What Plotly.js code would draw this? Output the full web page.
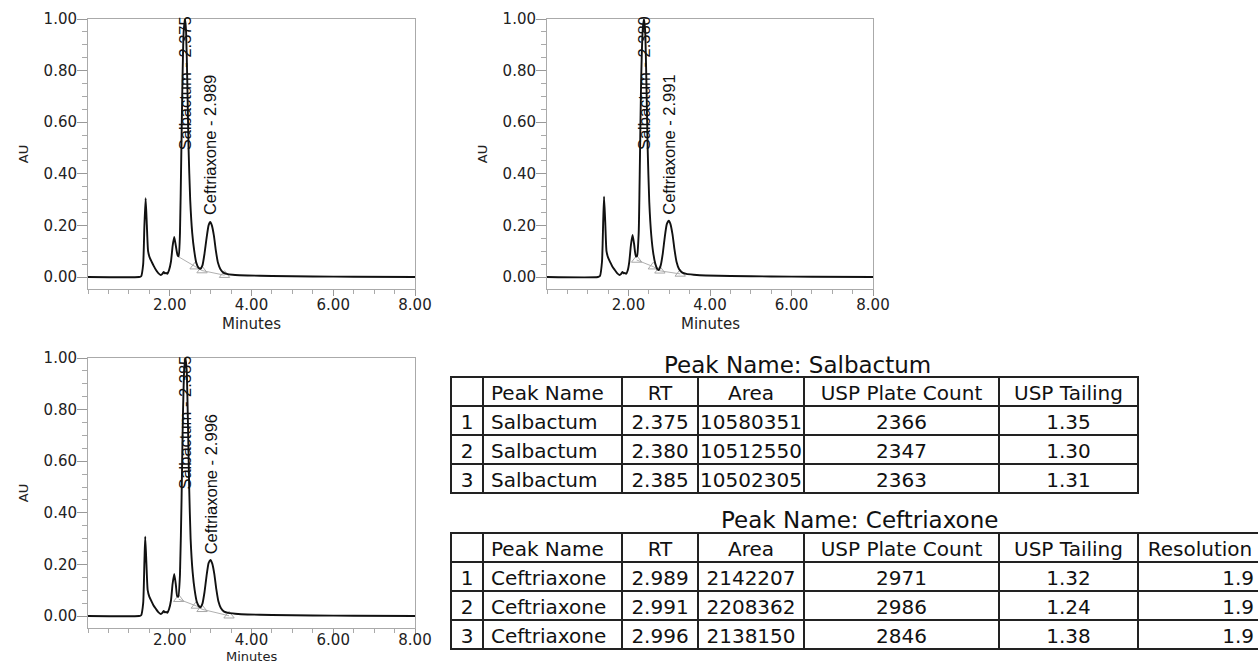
<!DOCTYPE html>
<html><head><meta charset="utf-8">
<script src="https://cdn.plot.ly/plotly-3.0.1.min.js"></script>
<style>html,body{margin:0;padding:0;overflow:hidden;background:#fff}#chart{width:1266px;height:665px}</style>
</head><body><div id="chart"></div>
<script>
// ---------- chromatogram data (minutes, AU) ----------
const run1Time = [0, 1.25, 1.30, 1.35, 1.38, 1.41, 1.44, 1.47, 1.51, 1.56, 1.61, 1.66, 1.72, 1.78, 1.82, 1.85, 1.88, 1.91, 1.94, 1.98, 2.03, 2.07, 2.11, 2.15, 2.19, 2.22, 2.25, 2.28, 2.31, 2.34, 2.375, 2.40, 2.43, 2.46, 2.50, 2.55, 2.60, 2.65, 2.70, 2.75, 2.80, 2.85, 2.90, 2.95, 2.99, 3.03, 3.08, 3.13, 3.18, 3.24, 3.32, 3.42, 3.60, 3.90, 4.50, 5.50, 6.50, 8.00];
const run1AU   = [0, 0, 0.003, 0.05, 0.20, 0.305, 0.20, 0.10, 0.075, 0.058, 0.042, 0.028, 0.015, 0.008, 0.012, 0.020, 0.014, 0.016, 0.012, 0.025, 0.060, 0.120, 0.155, 0.120, 0.085, 0.080, 0.170, 0.450, 0.750, 0.950, 1.000, 0.950, 0.750, 0.500, 0.300, 0.170, 0.100, 0.055, 0.036, 0.032, 0.045, 0.090, 0.150, 0.200, 0.213, 0.200, 0.160, 0.100, 0.055, 0.030, 0.016, 0.011, 0.008, 0.006, 0.004, 0.002, 0.001, 0];
const run2Time = [0, 1.25, 1.30, 1.35, 1.38, 1.40, 1.43, 1.46, 1.50, 1.55, 1.60, 1.66, 1.72, 1.78, 1.82, 1.85, 1.88, 1.91, 1.94, 1.98, 2.02, 2.06, 2.10, 2.14, 2.18, 2.21, 2.25, 2.28, 2.31, 2.35, 2.38, 2.41, 2.44, 2.47, 2.51, 2.56, 2.61, 2.66, 2.70, 2.74, 2.79, 2.84, 2.89, 2.94, 2.99, 3.03, 3.08, 3.13, 3.18, 3.24, 3.32, 3.42, 3.60, 3.90, 4.50, 5.50, 6.50, 8.00];
const run2AU   = [0, 0, 0.004, 0.06, 0.22, 0.311, 0.21, 0.10, 0.075, 0.058, 0.042, 0.028, 0.015, 0.008, 0.012, 0.020, 0.014, 0.016, 0.012, 0.025, 0.060, 0.125, 0.163, 0.125, 0.080, 0.082, 0.170, 0.450, 0.760, 0.960, 1.000, 0.950, 0.750, 0.500, 0.290, 0.160, 0.090, 0.050, 0.032, 0.027, 0.045, 0.090, 0.155, 0.205, 0.218, 0.205, 0.165, 0.105, 0.058, 0.031, 0.017, 0.012, 0.009, 0.006, 0.004, 0.002, 0.001, 0];
const run3Time = [0, 1.25, 1.30, 1.35, 1.38, 1.40, 1.43, 1.46, 1.50, 1.55, 1.60, 1.66, 1.72, 1.78, 1.82, 1.85, 1.88, 1.91, 1.94, 1.98, 2.03, 2.07, 2.11, 2.15, 2.18, 2.21, 2.25, 2.29, 2.32, 2.355, 2.385, 2.415, 2.445, 2.475, 2.51, 2.56, 2.61, 2.66, 2.71, 2.75, 2.80, 2.85, 2.90, 2.95, 2.996, 3.04, 3.09, 3.14, 3.19, 3.25, 3.33, 3.43, 3.60, 3.90, 4.50, 5.50, 6.50, 8.00];
const run3AU   = [0, 0, 0.003, 0.05, 0.21, 0.307, 0.20, 0.10, 0.075, 0.058, 0.042, 0.028, 0.015, 0.008, 0.012, 0.020, 0.014, 0.016, 0.012, 0.025, 0.060, 0.125, 0.163, 0.120, 0.078, 0.075, 0.160, 0.460, 0.760, 0.960, 1.000, 0.950, 0.750, 0.500, 0.300, 0.170, 0.100, 0.056, 0.038, 0.034, 0.048, 0.092, 0.155, 0.205, 0.217, 0.203, 0.163, 0.103, 0.057, 0.031, 0.017, 0.012, 0.009, 0.006, 0.004, 0.002, 0.001, 0];

// integration baselines (drop points)
const base1Time = [2.22, 2.62, 2.79, 3.34];
const base1AU   = [0.078, 0.040, 0.025, 0.007];
const base2Time = [2.20, 2.61, 2.77, 3.27];
const base2AU   = [0.066, 0.040, 0.024, 0.012];
const base3Time = [2.22, 2.65, 2.79, 3.45];
const base3AU   = [0.065, 0.039, 0.026, 0.001];

// peak names and retention times per run
const peakNames = ['Salbactum', 'Ceftriaxone'];
const run1RT = ['2.375', '2.989'];
const run2RT = ['2.380', '2.991'];
const run3RT = ['2.385', '2.996'];

// axis ticks and titles
const xTickVals = [2, 4, 6, 8];
const xTickText = ['2.00', '4.00', '6.00', '8.00'];
const yTickVals = [0, 0.2, 0.4, 0.6, 0.8, 1.0];
const yTickText = ['0.00', '0.20', '0.40', '0.60', '0.80', '1.00'];
const xTitle = 'Minutes';
const yTitle = 'AU';

// ---------- table data ----------
const salHeader   = ['', 'Peak Name', 'RT', 'Area', 'USP Plate Count', 'USP Tailing'];
const salIndex    = [1, 2, 3];
const salNames    = ['Salbactum', 'Salbactum', 'Salbactum'];
const salRT       = ['2.375', '2.380', '2.385'];
const salArea     = [10580351, 10512550, 10502305];
const salPlates   = [2366, 2347, 2363];
const salTailing  = ['1.35', '1.30', '1.31'];

const cefHeader   = ['', 'Peak Name', 'RT', 'Area', 'USP Plate Count', 'USP Tailing', 'Resolution'];
const cefIndex    = [1, 2, 3];
const cefNames    = ['Ceftriaxone', 'Ceftriaxone', 'Ceftriaxone'];
const cefRT       = ['2.989', '2.991', '2.996'];
const cefArea     = [2142207, 2208362, 2138150];
const cefPlates   = [2971, 2986, 2846];
const cefTailing  = ['1.32', '1.24', '1.38'];
const cefResol    = ['1.9', '1.9', '1.9'];

const tableTitles = ['Peak Name: Salbactum', 'Peak Name: Ceftriaxone'];

// ---------- layout helpers ----------
const W = 1266, H = 665;
const fx = p => p / W;
const fy = p => 1 - p / H;

const panels = [
  {x0: 88, x1: 415, y0: 19, y1: 289, titleY: 324, titleSize: 15, titleAnchor: 'middle', standoff: -4},
  {x0: 547, x1: 873, y0: 19, y1: 289, titleY: 324, titleSize: 15, titleAnchor: 'middle', standoff: -4},
  {x0: 88, x1: 415, y0: 358, y1: 628, titleY: 665, titleSize: 13, titleAnchor: 'bottom', standoff: -8}
];
const runs = [
  {t: run1Time, a: run1AU, bt: base1Time, ba: base1AU, mk: [false, true, true, true], rt: run1RT},
  {t: run2Time, a: run2AU, bt: base2Time, ba: base2AU, mk: [true, true, true, true], rt: run2RT},
  {t: run3Time, a: run3AU, bt: base3Time, ba: base3AU, mk: [true, true, true, true], rt: run3RT}
];

const tickFont = {family: 'DejaVu Sans, Liberation Sans, Arial', size: 15, color: '#222'};
const labelFont = {family: 'Liberation Sans, Arial', size: 16.5, color: '#111'};
const tableFont = {family: 'DejaVu Sans, Liberation Sans, Arial', size: 20, color: '#111'};
const titleFont = {family: 'DejaVu Sans, Liberation Sans, Arial', size: 23, color: '#111'};

const data = [];
const layout = {
  width: W, height: H,
  margin: {l: 0, r: 0, t: 0, b: 0},
  paper_bgcolor: '#fff', plot_bgcolor: '#fff',
  showlegend: false,
  annotations: [],
  font: {family: 'DejaVu Sans, Liberation Sans, Arial', color: '#222'}
};

panels.forEach((p, i) => {
  const sfx = i === 0 ? '' : String(i + 1);
  const xa = 'x' + sfx, ya = 'y' + sfx;
  const r = runs[i];
  layout['xaxis' + sfx] = {
    domain: [fx(p.x0), fx(p.x1)], range: [0, 8], anchor: ya,
    tickmode: 'array', tickvals: xTickVals, ticktext: xTickText,
    ticks: 'outside', ticklen: 6, tickwidth: 1, tickcolor: '#999', ticklabelstandoff: p.standoff,
    minor: {ticks: 'outside', ticklen: 4, tickwidth: 1, tickcolor: '#aaa', dtick: 0.5, tick0: 0},
    showline: true, linecolor: '#aaa', linewidth: 1, mirror: true,
    showgrid: false, zeroline: false, tickfont: tickFont, fixedrange: true
  };
  layout['yaxis' + sfx] = {
    domain: [fy(p.y1), fy(p.y0)], range: [-0.0465, 1.0], anchor: xa,
    tickmode: 'array', tickvals: yTickVals, ticktext: yTickText,
    ticks: 'outside', ticklen: 10, tickwidth: 1, tickcolor: '#999', ticklabelstandoff: -3,
    minor: {ticks: 'outside', ticklen: 5, tickwidth: 1, tickcolor: '#aaa', dtick: 0.05, tick0: 0},
    showline: true, linecolor: '#aaa', linewidth: 1, mirror: true,
    showgrid: false, zeroline: false, tickfont: tickFont, fixedrange: true,
    title: {text: yTitle, font: {family: tickFont.family, size: 13, color: '#222'}, standoff: 12}
  };
  // x-axis title as a paper annotation so it sits exactly under each panel
  layout.annotations.push({
    xref: 'paper', yref: 'paper', x: fx((p.x0 + p.x1) / 2), y: fy(p.titleY),
    text: xTitle, showarrow: false, xanchor: 'center', yanchor: p.titleAnchor, borderpad: 0,
    font: {family: tickFont.family, size: p.titleSize, color: '#222'}
  });
  data.push({
    type: 'scatter', mode: 'lines', x: r.bt, y: r.ba, xaxis: xa, yaxis: ya,
    line: {color: '#b0b0b0', width: 1}, hoverinfo: 'skip'
  });
  data.push({
    type: 'scatter', mode: 'markers',
    x: r.bt.filter((_, k) => r.mk[k]), y: r.ba.filter((_, k) => r.mk[k]),
    xaxis: xa, yaxis: ya,
    marker: {symbol: 'triangle-up-open', size: 9, color: '#a8a8a8', line: {width: 1, color: '#a8a8a8'}},
    hoverinfo: 'skip'
  });
  data.push({
    type: 'scatter', mode: 'lines', x: r.t, y: r.a, xaxis: xa, yaxis: ya,
    line: {color: '#111', width: 1.9, shape: 'spline', smoothing: 0.5}, name: 'Run ' + (i + 1)
  });
  const labelBase = [0.484, 0.233];
  peakNames.forEach((nm, k) => {
    layout.annotations.push({
      xref: xa, yref: ya, x: parseFloat(r.rt[k]), y: labelBase[k],
      text: nm + ' - ' + r.rt[k], textangle: -90, showarrow: false,
      xanchor: 'center', yanchor: 'bottom', font: labelFont
    });
  });
});

// tables
const border = {color: '#222', width: 1.5};
const fill = {color: '#fff'};
data.push({
  type: 'table',
  domain: {x: [fx(451), fx(1138)], y: [fy(500), fy(377)]},
  columnwidth: [32, 139, 76, 106, 195, 139],
  header: {values: salHeader, align: ['center', 'left', 'center', 'center', 'center', 'center'],
           height: 29, line: border, fill: fill, font: tableFont},
  cells: {values: [salIndex, salNames, salRT, salArea, salPlates, salTailing],
          align: ['center', 'left', 'center', 'center', 'center', 'center'],
          height: 29, line: border, fill: fill, font: tableFont}
});
data.push({
  type: 'table',
  domain: {x: [fx(451), fx(1262)], y: [fy(656), fy(533)]},
  columnwidth: [32, 139, 76, 106, 195, 139, 124],
  header: {values: cefHeader, align: ['center', 'left', 'center', 'center', 'center', 'center', 'center'],
           height: 29, line: border, fill: fill, font: tableFont},
  cells: {values: [cefIndex, cefNames, cefRT, cefArea, cefPlates, cefTailing, cefResol],
          align: ['center', 'left', 'center', 'center', 'center', 'center', 'right'],
          height: 29, line: border, fill: fill, font: tableFont}
});

layout.annotations.push({xref: 'paper', yref: 'paper', x: fx(797), y: fy(365), text: tableTitles[0],
  showarrow: false, xanchor: 'center', yanchor: 'middle', font: titleFont});
layout.annotations.push({xref: 'paper', yref: 'paper', x: fx(860), y: fy(520), text: tableTitles[1],
  showarrow: false, xanchor: 'center', yanchor: 'middle', font: titleFont});

Plotly.newPlot('chart', data, layout, {staticPlot: true, displayModeBar: false});
</script>
</body></html>
